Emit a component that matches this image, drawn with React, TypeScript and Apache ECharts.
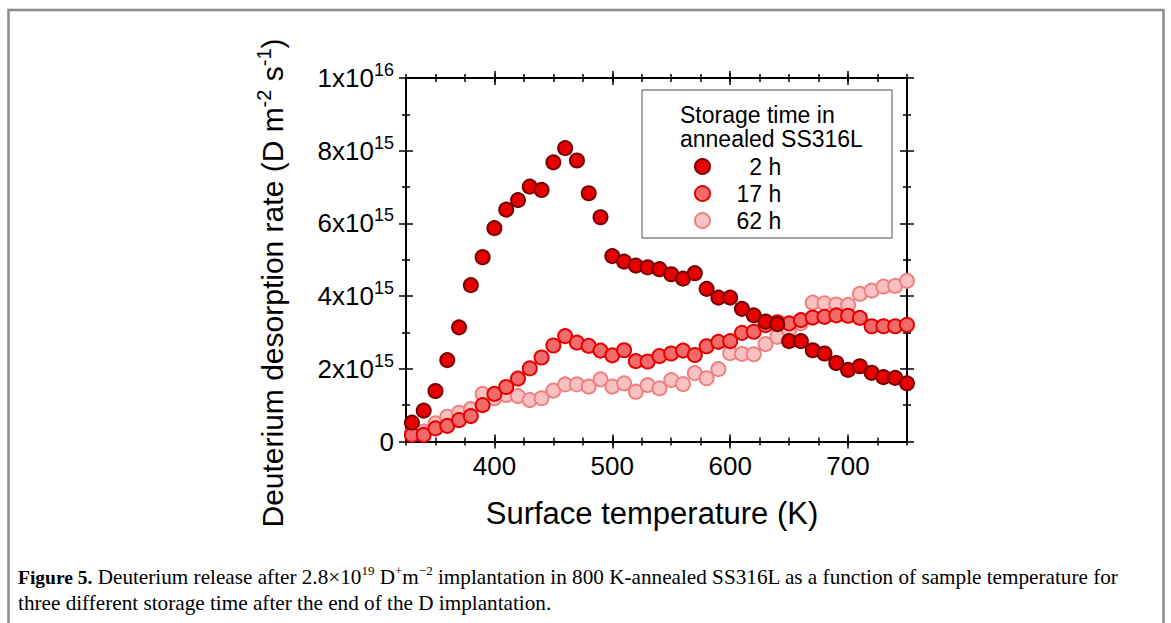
import React, { useEffect, useRef } from "react";
import * as echarts from "echarts";

// Surface temperature (K)
const temperatures = [
  330, 340, 350, 360, 370, 380, 390, 400, 410, 420, 430, 440, 450, 460, 470,
  480, 490, 500, 510, 520, 530, 540, 550, 560, 570, 580, 590, 600, 610, 620,
  630, 640, 650, 660, 670, 680, 690, 700, 710, 720, 730, 740, 750,
];
// Deuterium desorption rate, in units of 1e15 D m^-2 s^-1
const rate2h = [
  0.52, 0.85, 1.39, 2.24, 3.14, 4.3, 5.07, 5.87, 6.38, 6.64, 7.01, 6.92, 7.68,
  8.07, 7.73, 6.83, 6.17, 5.1, 4.95, 4.84, 4.79, 4.74, 4.6, 4.48, 4.63, 4.2,
  3.96, 3.96, 3.65, 3.47, 3.3, 3.23, 2.76, 2.76, 2.51, 2.42, 2.16, 1.97, 2.07,
  1.89, 1.77, 1.75, 1.6,
];
const rate17h = [
  0.18, 0.18, 0.36, 0.43, 0.59, 0.7, 1.0, 1.31, 1.5, 1.73, 2.01, 2.31, 2.64,
  2.9, 2.72, 2.63, 2.5, 2.37, 2.51, 2.21, 2.2, 2.35, 2.42, 2.5, 2.38, 2.62,
  2.74, 2.76, 2.99, 3.02, 3.2, 3.28, 3.25, 3.34, 3.41, 3.43, 3.47, 3.46, 3.4,
  3.17, 3.17, 3.17, 3.21,
];
const rate62h = [
  0.22, 0.27, 0.5, 0.68, 0.79, 0.89, 1.31, 1.19, 1.28, 1.25, 1.14, 1.19, 1.4,
  1.57, 1.57, 1.51, 1.71, 1.51, 1.6, 1.37, 1.55, 1.46, 1.69, 1.58, 1.88, 1.74,
  1.99, 2.43, 2.41, 2.4, 2.68, 2.88, 3.07, 3.25, 3.82, 3.8, 3.77, 3.76, 4.06,
  4.15, 4.26, 4.28, 4.42,
];
const seriesNames = ["2 h", "17 h", "62 h"];
const xMajorTicks = [400, 500, 600, 700];
const yTickLabels: Record<number, string> = {
  0: "{a|0}",
  2: "{a|2x10}{s|15}",
  4: "{a|4x10}{s|15}",
  6: "{a|6x10}{s|15}",
  8: "{a|8x10}{s|15}",
  10: "{a|1x10}{s|16}",
};
const legendTitle = ["Storage time in", "annealed SS316L"];
const xTitle = "Surface temperature (K)";
const yTitleRich = "{a|Deuterium desorption rate (D m}{s|-2}{a| s}{s|-1}{a|)}";
const captionLine1 =
  "{b|Figure 5.}{n| Deuterium release after 2.8×10}{s|19}{n| D}{s|+}{n|m}{s|−2}{n| implantation in 800 K-annealed SS316L as a function of sample temperature for}";
const captionLine2 = "three different storage time after the end of the D implantation.";

const SANS = "'Liberation Sans', Arial, sans-serif";
const SERIF = "'Liberation Serif', 'Times New Roman', serif";

const styles = [
  { color: "#e60000", borderColor: "#780000" },
  { color: "#f26a6a", borderColor: "#e60000" },
  { color: "#f9c2c2", borderColor: "#f08080" },
];

function buildOption() {
  const axisLine = { show: true, onZero: false, lineStyle: { color: "#000", width: 2 } };
  const xAxes: any[] = [];
  (["bottom", "top"] as const).forEach((pos) => {
    [false, true].forEach((inside) => {
      // minor ticks every 25 K
      xAxes.push({
        type: "value",
        position: pos,
        min: 325,
        max: 750,
        interval: 25,
        axisLine,
        splitLine: { show: false },
        axisTick: { show: true, inside, length: 4, lineStyle: { color: "#000", width: 1.5 } },
        axisLabel:
          pos === "bottom" && !inside
            ? {
                show: true,
                margin: 11,
                fontSize: 26,
                fontFamily: SANS,
                color: "#000",
                formatter: (v: number) => (v % 100 === 0 ? String(v) : ""),
              }
            : { show: false },
      });
      // major ticks every 100 K
      xAxes.push({
        type: "value",
        position: pos,
        min: 325,
        max: 750,
        axisLine,
        splitLine: { show: false },
        axisTick: {
          show: true,
          inside,
          length: 7,
          customValues: xMajorTicks,
          lineStyle: { color: "#000", width: 1.5 },
        },
        axisLabel: { show: false },
      });
    });
  });

  const yAxes: any[] = [];
  (["left", "right"] as const).forEach((pos) => {
    [false, true].forEach((inside) => {
      yAxes.push({
        type: "value",
        position: pos,
        min: 0,
        max: 10,
        interval: 2,
        axisLine,
        splitLine: { show: false },
        axisTick: { show: true, inside, length: 7, lineStyle: { color: "#000", width: 1.5 } },
        minorTick: { show: true, splitNumber: 2, length: 4, lineStyle: { color: "#000", width: 1.5 } },
        minorSplitLine: { show: false },
        axisLabel:
          pos === "left" && !inside
            ? {
                show: true,
                margin: 12,
                color: "#000",
                formatter: (v: number) => yTickLabels[v] ?? "",
                rich: {
                  a: { fontSize: 26, fontFamily: SANS, color: "#000" },
                  s: { fontSize: 18, fontFamily: SANS, color: "#000", padding: [0, 0, 16, 0] },
                },
              }
            : { show: false },
      });
    });
  });

  const order = [2, 1, 0];
  const seriesData = [rate2h, rate17h, rate62h];
  const series = order.map((i) => ({
    name: seriesNames[i],
    type: "scatter",
    xAxisIndex: 0,
    yAxisIndex: 0,
    symbol: "circle",
    symbolSize: 14,
    itemStyle: { ...styles[i], borderWidth: 2, opacity: 1 },
    data: temperatures.map((t, k) => [t, seriesData[i][k]]),
    z: 3 + (2 - i),
  }));

  return {
    animation: false,
    backgroundColor: "#fff",
    grid: { left: 406, top: 78, width: 501, height: 363.5, containLabel: false },
    xAxis: xAxes,
    yAxis: yAxes,
    legend: {
      show: true,
      orient: "vertical",
      left: 689,
      top: 150,
      itemWidth: 58,
      itemHeight: 15,
      itemGap: 4,
      icon: "circle",
      data: seriesNames,
      selectedMode: false,
      formatter: (name: string) => (name.length < 4 ? "  " + name : name),
      textStyle: { fontSize: 23, fontFamily: SANS, color: "#000", lineHeight: 21 },
    },
    graphic: [
      {
        type: "rect",
        shape: { x: 8.5, y: 10, width: 1155, height: 700 },
        style: { fill: "none", stroke: "#8c8c8c", lineWidth: 2.5 },
        silent: true,
      },
      {
        type: "rect",
        shape: { x: 642, y: 90, width: 250, height: 148 },
        style: { fill: "none", stroke: "#8a8a8a", lineWidth: 1.5 },
        silent: true,
      },
      {
        type: "text",
        x: 680,
        y: 115,
        style: {
          text: legendTitle[0],
          fontSize: 23,
          fontFamily: SANS,
          fill: "#000",
          verticalAlign: "middle",
          align: "left",
        },
      },
      {
        type: "text",
        x: 680,
        y: 139,
        style: {
          text: legendTitle[1],
          fontSize: 23,
          fontFamily: SANS,
          fill: "#000",
          verticalAlign: "middle",
          align: "left",
        },
      },
      {
        type: "text",
        x: 652,
        y: 513,
        style: {
          text: xTitle,
          fontSize: 31,
          fontFamily: SANS,
          fill: "#000",
          align: "center",
          verticalAlign: "middle",
        },
      },
      {
        type: "text",
        x: 272,
        y: 283,
        rotation: Math.PI / 2,
        style: {
          text: yTitleRich,
          align: "center",
          verticalAlign: "middle",
          rich: {
            a: { fontSize: 30, fontFamily: SANS, fill: "#000", color: "#000" },
            s: { fontSize: 20, fontFamily: SANS, fill: "#000", color: "#000", padding: [0, 0, 16, 0] },
          },
        },
      },
      {
        type: "text",
        x: 18,
        y: 577,
        style: {
          text: captionLine1,
          align: "left",
          verticalAlign: "middle",
          rich: {
            b: { fontSize: 19.5, fontFamily: SERIF, fontWeight: "bold", fill: "#000", color: "#000" },
            n: { fontSize: 21.2, fontFamily: SERIF, fill: "#000", color: "#000" },
            s: { fontSize: 13, fontFamily: SERIF, fill: "#000", color: "#000", padding: [0, 0, 13, 0] },
          },
        },
      },
      {
        type: "text",
        x: 18,
        y: 603,
        style: {
          text: captionLine2,
          fontSize: 21.2,
          fontFamily: SERIF,
          fill: "#000",
          align: "left",
          verticalAlign: "middle",
        },
      },
    ],
    series,
  };
}

export default function App() {
  const ref = useRef<HTMLDivElement>(null);
  useEffect(() => {
    if (!ref.current) return;
    const chart = echarts.init(ref.current, undefined, { renderer: "svg" });
    chart.setOption(buildOption() as any);
    return () => chart.dispose();
  }, []);
  return (
    <div
      ref={ref}
      style={{ position: "fixed", left: 0, top: 0, width: 1171, height: 623, background: "#fff" }}
    />
  );
}
